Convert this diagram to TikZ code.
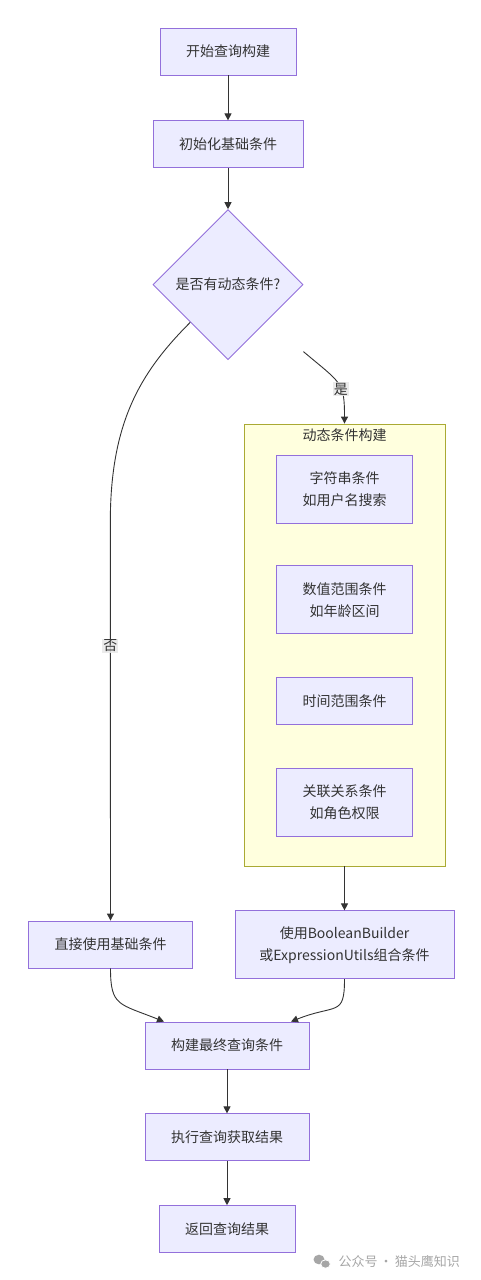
\documentclass[tikz,border=0pt]{standalone}
\usepackage{fontspec}
\setmainfont{Noto Sans CJK SC}
\usetikzlibrary{arrows.meta, positioning, shapes.geometric}

\definecolor{boxfill}{HTML}{ECECFF}
\definecolor{boxline}{HTML}{9370DB}
\definecolor{grpfill}{HTML}{FFFFDE}
\definecolor{grpline}{HTML}{AAAA33}
\definecolor{edgecol}{HTML}{333333}
\definecolor{markgray}{HTML}{A6A6A6}

\tikzset{
  box/.style={draw=boxline, fill=boxfill, line width=0.8pt, minimum height=47pt,
    inner xsep=26pt, align=center, text=edgecol, font=\fontsize{14}{22}\selectfont},
  tallbox/.style={box, minimum height=68pt},
  decision/.style={diamond, draw=boxline, fill=boxfill, line width=0.8pt, aspect=1,
    minimum width=150pt, minimum height=150pt, inner sep=0pt, text=edgecol,
    font=\fontsize{14}{22}\selectfont},
  group/.style={draw=grpline, fill=grpfill, line width=0.8pt,
    minimum width=201pt, minimum height=442pt},
  line/.style={draw=edgecol, line width=0.9pt, -{Triangle[length=7pt, width=7pt]}},
  lbl/.style={fill=black!9, fill opacity=0.85, text opacity=1, inner sep=1pt,
    text=edgecol, font=\fontsize{14}{16}\selectfont}
}

\begin{document}
\begin{tikzpicture}[x=1pt, y=1pt]
    \useasboundingbox (0,0) rectangle (481,-1280);

    % main chain
    \node[box] (start) at (228,-51.5) {开始查询构建};
    \node[box] (init) [below=45pt of start] {初始化基础条件};
    \node[decision] (dia) [below=41pt of init] {是否有动态条件?};

    % dynamic conditions
    \node[group] (grp) at (344.5,-645) {};
    \node[text=edgecol, font=\fontsize{14}{16}\selectfont] (grptitle) at ([yshift=-12pt]grp.north) {动态条件构建};
    \node[tallbox] (strc) [below=31pt of grp.north] {字符串条件\\如用户名搜索};
    \node[tallbox] (numc) [below=42pt of strc] {数值范围条件\\如年龄区间};
    \node[box] (timec) [below=43pt of numc] {时间范围条件};
    \node[tallbox] (relc) [below=43pt of timec] {关联关系条件\\如角色权限};

    \node[tallbox, inner xsep=24.5pt] (comb) [below=44pt of grp] {使用BooleanBuilder\\或ExpressionUtils组合条件};
    \node[box] (direct) at (110.5,-944.5) {直接使用基础条件};

    \node[box] (final) at (227,-1045.5) {构建最终查询条件};
    \node[box] (exec) [below=44pt of final] {执行查询获取结果};
    \node[box] (ret) [below=44pt of exec] {返回查询结果};

    \coordinate (yesstart) at ([yshift=-67pt]dia.east);

    \draw[line] (start) -- (init);
    \draw[line] (init) -- (dia);
    \draw[line] (dia.south west) .. controls +(-50,-50) and +(0,100) .. ++(-80,-200)
        -- node[lbl, pos=0.31] {否} (direct.north);
    \draw[line] (yesstart) .. controls +(38,-32) and +(0,42) .. node[lbl, pos=0.6] {是} (grp.north);
    \draw[line] (grp) -- (comb);
    \draw[line] (direct.south) .. controls +(0,-38) and +(-45,18) .. ([xshift=-63pt]final.north);
    \draw[line] (comb.south) .. controls +(0,-38) and +(45,18) .. ([xshift=64pt]final.north);
    \draw[line] (final) -- (exec);
    \draw[line] (exec) -- (ret);

    % watermark
    \fill[markgray] (319,-1259.5) ellipse (5.5pt and 4.8pt);
    \fill[markgray, draw=white, line width=0.8pt] (325.5,-1264) ellipse (4.8pt and 4.2pt);
    \node[text=markgray, font=\fontsize{13}{15}\selectfont, anchor=west] (mark) at (335,-1262) {公众号\,·\,猫头鹰知识};
\end{tikzpicture}
\end{document}
